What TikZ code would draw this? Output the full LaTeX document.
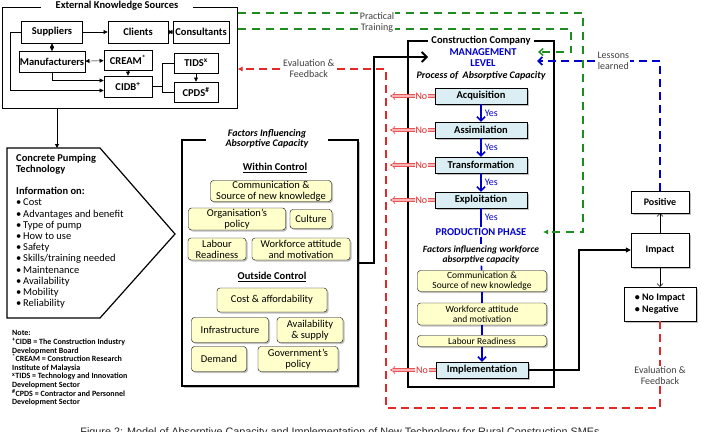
\documentclass[tikz,border=0pt]{standalone}
\usepackage{fontspec}
\setmainfont{Carlito}
\newfontfamily\arialfont{Liberation Sans}
\usetikzlibrary{arrows.meta,shadows}

\definecolor{jaune}{HTML}{FFFFCC}
\definecolor{bleuclair}{HTML}{DAEEF3}
\definecolor{bleu}{HTML}{0000CC}
\definecolor{rouge}{HTML}{E52828}
\definecolor{vert}{HTML}{1E8C1E}
\definecolor{grisfonce}{HTML}{404040}

\newcommand{\puce}{\makebox[7pt][l]{\textbullet}}

\begin{document}
\begin{tikzpicture}[x=1pt, y=-1pt,
    boite/.style={draw, line width=0.9pt, inner sep=0pt, font=\bfseries\fontsize{10.5}{12}\selectfont},
    titre/.style={fill=white, inner ysep=0pt, align=center, font=\bfseries\fontsize{10.5}{11}\selectfont},
    facteur/.style={draw, rounded corners=3pt, fill=jaune, inner sep=0pt, align=center,
      drop shadow={shadow xshift=1.5pt, shadow yshift=-1.5pt}, font=\fontsize{10.5}{11}\selectfont},
    etape/.style={draw, fill=bleuclair, inner sep=0pt, minimum width=92pt, minimum height=16pt,
      drop shadow={shadow xshift=1.5pt, shadow yshift=-1.5pt}, font=\bfseries\fontsize{10.5}{12}\selectfont},
    resultat/.style={draw, fill=white, inner sep=0pt, minimum width=58pt, align=left,
      drop shadow={shadow xshift=1.5pt, shadow yshift=-1.5pt}, font=\bfseries\fontsize{10}{11.5}\selectfont},
    lbl/.style={fill=white, text=grisfonce, inner sep=1pt, align=center, font=\fontsize{10}{11}\selectfont},
    nonlbl/.style={fill=white, text=rouge, inner sep=1pt, font=\fontsize{10}{11}\selectfont},
    ouilbl/.style={right=2pt, text=bleu, inner sep=1pt, font=\fontsize{10}{11}\selectfont},
    fleche/.style={-{Triangle[length=4pt, width=4pt]}},
    dfleche/.style={{Triangle[length=4pt, width=4pt]}-{Triangle[length=4pt, width=4pt]}},
    oui/.style={bleu, line width=1.6pt, -{Straight Barb[length=4pt, width=8pt]}},
    ligne/.style={bleu, line width=1.6pt},
    non/.style={draw=rouge!80, double=rouge!35, double distance=2pt, line width=0.7pt, -{Implies}},
    rdash/.style={rouge, line width=1.8pt, dash pattern=on 8pt off 5pt},
    vdash/.style={vert, line width=1.5pt, dash pattern=on 8pt off 6pt},
    bdash/.style={bleu, line width=1.8pt, dash pattern=on 8pt off 5pt}]
  \useasboundingbox (0,0) rectangle (701,431);

  % Sources externes
  \node[draw, line width=1pt, minimum width=235pt, minimum height=101pt] (ext) at (119.5,57.5) {};
  \node[titre, inner xsep=15pt] (exttitre) at (117,6) {External Knowledge Sources};
  \node[boite, minimum width=61pt, minimum height=22pt] (sup) at (52,32) {Suppliers};
  \node[boite, minimum width=60pt, minimum height=22pt] (cli) at (138,32) {Clients};
  \node[boite, minimum width=56pt, minimum height=22pt] (con) at (201,32) {Consultants};
  \node[boite, minimum width=66pt, minimum height=21pt] (man) at (52,62) {Manufacturers};
  \node[boite, minimum width=48pt, minimum height=20pt] (cream) at (128,60) {CREAM\textsuperscript{*}};
  \node[boite, minimum width=48pt, minimum height=21pt] (cidb) at (128,86.5) {CIDB\textsuperscript{+}};
  \node[boite, minimum width=44pt, minimum height=20pt] (tids) at (196,63) {TIDS\textsuperscript{x}};
  \node[boite, minimum width=44pt, minimum height=20pt] (cpds) at (196,92) {CPDS\textsuperscript{\#}};

  \draw[fleche] (sup) -- (cli);
  \draw[dfleche] (cli) -- (con);
  \draw[dfleche] (sup) -- (man);
  \draw[dfleche] (man) -- (cream);
  \draw[fleche] (cream) -- (cidb);
  \draw[fleche] (man.south) |- ([yshift=6pt]cidb.west);
  \draw[fleche] (sup.west) -- ++(-11,0) |- ([yshift=-4pt]cidb.west);
  \draw (cidb.east) -| ([xshift=-11pt]tids.west) -- (tids.west);
  \draw ([xshift=-11pt]tids.west) |- (cpds.west);
  \draw[fleche] (tids) -- (cpds);

  % Technologie
  \coordinate (cp) at (57,148);
  \draw[line width=1.2pt] (7,148) -- (100,148) -- (175,234) -- (100,318) -- (7,318) -- cycle;
  \draw[fleche, line width=1pt] (ext.south -| cp) -- (cp);
  \node[anchor=north west, align=left, inner sep=0pt, font=\fontsize{10.5}{11.2}\selectfont] (cpinfo) at (16,153.5)
    {\textbf{Concrete Pumping}\\\textbf{Technology}\\[11.2pt]\textbf{Information on:}\\
     \puce Cost\\\puce Advantages and benefit\\\puce Type of pump\\\puce How to use\\
     \puce Safety\\\puce Skills/training needed\\\puce Maintenance\\\puce Availability\\
     \puce Mobility\\\puce Reliability};

  % Notes
  \node[anchor=north west, align=left, inner sep=0pt, font=\bfseries\fontsize{8}{8.6}\selectfont] (note) at (12,330.5)
    {Note:\\\textsuperscript{+}CIDB = The Construction Industry\\Development Board\\
     \textsuperscript{*}CREAM = Construction Research\\Institute of Malaysia\\
     \textsuperscript{x}TIDS = Technology and Innovation\\Development Sector\\
     \textsuperscript{\#}CPDS = Contractor and Personnel\\Development Sector};

  % Facteurs
  \node[draw, line width=1.2pt, fill=white, minimum width=176pt, minimum height=246pt,
    drop shadow={shadow xshift=1.5pt, shadow yshift=-1.5pt, fill=gray}] (fac) at (270,263) {};
  \node[titre, inner xsep=20pt, font=\bfseries\itshape\fontsize{10}{10.5}\selectfont] (factitre) at (267,139)
    {Factors Influencing\\Absorptive Capacity};
  \node[font=\bfseries\fontsize{10.5}{12}\selectfont] (wc) at (275,168) {\underline{Within Control}};
  \node[facteur, minimum width=121pt, minimum height=21pt] (f1) at (271,191) {Communication \&\\Source of new knowledge};
  \node[facteur, minimum width=97pt, minimum height=22pt] (f2) at (237,219) {Organisation's\\policy};
  \node[facteur, minimum width=42pt, minimum height=19pt] (f3) at (311,219) {Culture};
  \node[facteur, minimum width=58pt, minimum height=22pt] (f4) at (217,249) {Labour\\Readiness};
  \node[facteur, minimum width=98pt, minimum height=22pt] (f5) at (301,249) {Workforce attitude\\and motivation};
  \node[font=\bfseries\fontsize{10.5}{12}\selectfont] (oc) at (272,277) {\underline{Outside Control}};
  \node[facteur, minimum width=110pt, minimum height=24pt] (o1) at (272,300) {Cost \& affordability};
  \node[facteur, minimum width=77pt, minimum height=25pt] (o2) at (230,330) {Infrastructure};
  \node[facteur, minimum width=66pt, minimum height=25pt] (o3) at (310,330) {Availability\\\& supply};
  \node[facteur, minimum width=55pt, minimum height=25pt] (o4) at (219,359) {Demand};
  \node[facteur, minimum width=80pt, minimum height=25pt] (o5) at (298,359) {Government's\\policy};

  % Entreprise
  \node[draw, line width=1.2pt, minimum width=146pt, minimum height=346pt] (cc) at (481,214) {};
  \node[titre, inner xsep=3pt] (cctitre) at (481,41) {Construction Company};
  \node[align=center, text=bleu, inner sep=1pt, font=\bfseries\fontsize{10.5}{11}\selectfont] (mgmt) at (483,57.5) {MANAGEMENT\\LEVEL};
  \node[font=\bfseries\itshape\fontsize{10}{11}\selectfont] (proc) at (481,76) {Process of~~Absorptive Capacity};
  \node[etape] (acq) at (481,96) {Acquisition};
  \node[etape] (asm) at (481,130) {Assimilation};
  \node[etape] (tra) at (481,165) {Transformation};
  \node[etape] (exp) at (481,200) {Exploitation};
  \node[text=bleu, inner sep=1pt, font=\bfseries\fontsize{10.5}{11}\selectfont] (pp) at (481,232) {PRODUCTION PHASE};
  \node[align=center, inner sep=1pt, font=\bfseries\itshape\fontsize{9.5}{10.5}\selectfont] (fw) at (481,255)
    {Factors influencing workforce\\absorptive capacity};
  \node[facteur, minimum width=129pt, minimum height=21pt, font=\fontsize{9.5}{10.5}\selectfont] (bc1) at (482,281)
    {Communication \&\\Source of new knowledge};
  \node[facteur, minimum width=129pt, minimum height=22pt, font=\fontsize{9.5}{10.5}\selectfont] (bc2) at (482,314)
    {Workforce attitude\\and motivation};
  \node[facteur, minimum width=129pt, minimum height=11pt, font=\fontsize{9.5}{10.5}\selectfont] (bc3) at (482,341)
    {Labour Readiness};
  \node[etape] (impl) at (482,370) {Implementation};

  \draw[oui] (acq) -- node[ouilbl]{Yes} (asm);
  \draw[oui] (asm) -- node[ouilbl]{Yes} (tra);
  \draw[oui] (tra) -- node[ouilbl]{Yes} (exp);
  \draw[ligne] (exp) -- node[ouilbl]{Yes} (pp);
  \draw[ligne] (pp) -- (fw);
  \draw[ligne] (fw) -- (bc1);
  \draw[ligne] (bc1) -- (bc2);
  \draw[ligne] (bc2) -- (bc3);
  \draw[oui] (bc3) -- (impl);

  % Retours "No"
  \coordinate (rg) at (390,0);
  \draw[non] (acq.west) -- node[nonlbl, pos=0.3]{No} (acq.west -| rg);
  \draw[non] (asm.west) -- node[nonlbl, pos=0.3]{No} (asm.west -| rg);
  \draw[non] (tra.west) -- node[nonlbl, pos=0.3]{No} (tra.west -| rg);
  \draw[non] (exp.west) -- node[nonlbl, pos=0.3]{No} (exp.west -| rg);
  \draw[non] (impl.west) -- node[nonlbl, pos=0.3]{No} (impl.west -| rg);

  % Facteurs vers management
  \coordinate (fin) at (428,57);
  \draw[line width=1.8pt, -{Straight Barb[length=5pt, width=10pt]}] (fac.east) -- ++(15,0) |- (fin);

  % Impact
  \node[resultat, minimum height=22pt] (pos) at (660,202) {Positive};
  \node[resultat, minimum height=34pt] (imp) at (660,250) {Impact};
  \node[resultat, minimum width=72pt, minimum height=34pt] (neg) at (660,304) {\textbullet~No Impact\\\textbullet~Negative};
  \draw[-{Straight Barb[length=3pt, width=6pt]}] (imp) -- (pos);
  \draw[-{Straight Barb[length=3pt, width=6pt]}] (imp) -- (neg);
  \coordinate (k1) at (579,250);
  \draw[line width=1.2pt, -{Triangle[length=5pt, width=5pt]}] (impl.east) -| (k1) -- (imp.west);

  % Practical training
  \coordinate (g1) at (583,13);
  \coordinate (g2) at (583,232);
  \coordinate (g3) at (543,232);
  \coordinate (g4) at (571,29);
  \coordinate (g5) at (571,52);
  \coordinate (g6) at (538,52);
  \draw[vdash, -{Latex[length=5pt, width=5pt]}] (ext.east |- g1) -- (g1) -- (g2) -- (g3);
  \draw[vdash, -{Straight Barb[length=4pt, width=7pt]}] (ext.east |- g4) -- (g4) -- (g5) -- (g6);
  \node[lbl] (pt) at (377,22.5) {Practical\\Training};

  % Lessons learned
  \coordinate (b1) at (660,61);
  \coordinate (b2) at (537,61);
  \draw[bdash, -{Straight Barb[length=4pt, width=8pt]}] (pos.north) -- (b1) -- node[lbl, pos=0.38]{Lessons\\learned} (b2);

  % Evaluation & feedback
  \coordinate (r1) at (386,69);
  \coordinate (r2) at (386,408);
  \draw[rdash, -{Latex[length=5pt, width=5pt]}] (neg.south) -- node[lbl, pos=0.63]{Evaluation \&\\Feedback} (neg.south |- r2)
    -- (r2) -- (r1) -- node[lbl, pos=0.52]{Evaluation \&\\Feedback} (r1 -| ext.east);

  % Legende
  \node[anchor=base, text=black!85, font=\arialfont\fontsize{10.8}{12}\selectfont] (cap) at (340,435)
    {Figure 2: Model of Absorptive Capacity and Implementation of New Technology for Rural Construction SMEs};
\end{tikzpicture}
\end{document}
